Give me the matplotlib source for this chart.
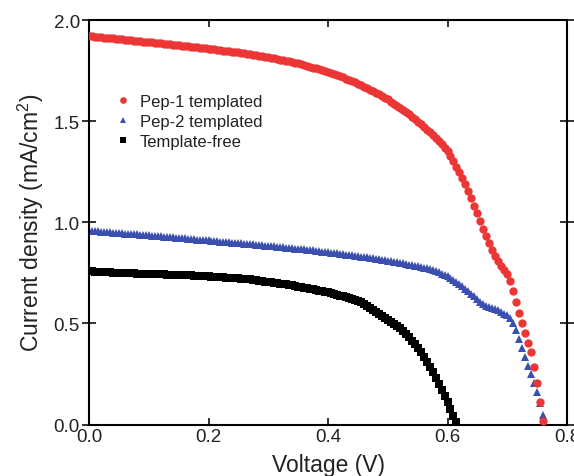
import numpy as np
import matplotlib
matplotlib.use("Agg")
import matplotlib.pyplot as plt

plt.rcParams['font.family'] = ['Liberation Sans', 'DejaVu Sans']
plt.rcParams['mathtext.fontset'] = 'custom'
plt.rcParams['mathtext.rm'] = 'Liberation Sans'
plt.rcParams['mathtext.it'] = 'Liberation Sans:italic'

# Voltage sweep step (V) -- all curves are sampled on the same grid
v_step = 0.005

# Current density (mA/cm^2), one value per voltage step starting at 0 V
pep1 = [
    1.920, 1.919, 1.918, 1.916, 1.915, 1.913, 1.912, 1.910, 1.909, 1.907,
    1.905, 1.904, 1.902, 1.901, 1.899, 1.898, 1.896, 1.895, 1.893, 1.892,
    1.890, 1.889, 1.887, 1.886, 1.884, 1.883, 1.881, 1.880, 1.878, 1.877,
    1.875, 1.873, 1.872, 1.870, 1.868, 1.867, 1.865, 1.863, 1.862, 1.860,
    1.858, 1.856, 1.855, 1.853, 1.851, 1.849, 1.848, 1.846, 1.844, 1.842,
    1.840, 1.838, 1.836, 1.833, 1.831, 1.829, 1.826, 1.824, 1.821, 1.819,
    1.816, 1.813, 1.810, 1.807, 1.804, 1.801, 1.798, 1.795, 1.792, 1.788,
    1.785, 1.781, 1.777, 1.773, 1.769, 1.765, 1.761, 1.757, 1.753, 1.749,
    1.745, 1.740, 1.734, 1.728, 1.722, 1.716, 1.710, 1.704, 1.698, 1.691,
    1.685, 1.678, 1.671, 1.664, 1.656, 1.649, 1.641, 1.633, 1.624, 1.616,
    1.607, 1.597, 1.587, 1.577, 1.566, 1.555, 1.544, 1.533, 1.521, 1.509,
    1.497, 1.484, 1.471, 1.458, 1.444, 1.430, 1.416, 1.401, 1.386, 1.368,
    1.350, 1.326, 1.301, 1.275, 1.248, 1.218, 1.187, 1.153, 1.118, 1.082,
    1.045, 1.005, 0.967, 0.930, 0.895, 0.862, 0.832, 0.806, 0.785, 0.766,
    0.745, 0.710, 0.660, 0.607, 0.553, 0.503, 0.454, 0.405, 0.360, 0.286,
    0.207, 0.109, 0.015,
]

pep2 = [
    0.958, 0.957, 0.956, 0.955, 0.954, 0.953, 0.951, 0.950, 0.949, 0.948,
    0.947, 0.946, 0.944, 0.943, 0.942, 0.941, 0.940, 0.938, 0.937, 0.936,
    0.935, 0.934, 0.932, 0.931, 0.930, 0.929, 0.927, 0.926, 0.925, 0.923,
    0.922, 0.921, 0.920, 0.918, 0.917, 0.916, 0.914, 0.913, 0.912, 0.911,
    0.910, 0.908, 0.907, 0.906, 0.904, 0.903, 0.902, 0.900, 0.899, 0.898,
    0.897, 0.895, 0.894, 0.893, 0.891, 0.890, 0.889, 0.887, 0.886, 0.885,
    0.884, 0.882, 0.881, 0.879, 0.878, 0.876, 0.875, 0.873, 0.872, 0.870,
    0.869, 0.867, 0.866, 0.864, 0.862, 0.861, 0.859, 0.857, 0.855, 0.853,
    0.851, 0.849, 0.848, 0.846, 0.844, 0.842, 0.840, 0.838, 0.836, 0.834,
    0.832, 0.830, 0.828, 0.826, 0.823, 0.821, 0.819, 0.817, 0.815, 0.812,
    0.810, 0.807, 0.805, 0.802, 0.799, 0.797, 0.794, 0.791, 0.788, 0.786,
    0.783, 0.780, 0.776, 0.772, 0.767, 0.763, 0.758, 0.752, 0.746, 0.740,
    0.733, 0.724, 0.715, 0.705, 0.694, 0.683, 0.671, 0.659, 0.647, 0.634,
    0.621, 0.608, 0.597, 0.588, 0.580, 0.574, 0.571, 0.566, 0.557, 0.548,
    0.540, 0.528, 0.500, 0.465, 0.425, 0.380, 0.333, 0.290, 0.250, 0.207,
    0.160, 0.105, 0.045,
]

template_free = [
    0.757, 0.757, 0.756, 0.755, 0.755, 0.754, 0.753, 0.752, 0.751, 0.750,
    0.749, 0.749, 0.748, 0.748, 0.747, 0.747, 0.746, 0.746, 0.745, 0.745,
    0.744, 0.744, 0.743, 0.743, 0.742, 0.742, 0.741, 0.741, 0.740, 0.740,
    0.739, 0.738, 0.738, 0.737, 0.737, 0.736, 0.735, 0.735, 0.734, 0.733,
    0.732, 0.731, 0.730, 0.729, 0.728, 0.727, 0.726, 0.725, 0.724, 0.723,
    0.722, 0.721, 0.719, 0.718, 0.717, 0.715, 0.713, 0.711, 0.709, 0.707,
    0.705, 0.703, 0.701, 0.699, 0.697, 0.695, 0.693, 0.690, 0.688, 0.685,
    0.682, 0.680, 0.677, 0.674, 0.671, 0.668, 0.665, 0.662, 0.659, 0.656,
    0.653, 0.649, 0.645, 0.641, 0.637, 0.633, 0.628, 0.624, 0.620, 0.616,
    0.612, 0.604, 0.596, 0.587, 0.578, 0.568, 0.558, 0.548, 0.537, 0.526,
    0.515, 0.506, 0.497, 0.488, 0.478, 0.464, 0.448, 0.431, 0.414, 0.397,
    0.380, 0.357, 0.334, 0.310, 0.285, 0.260, 0.231, 0.201, 0.171, 0.140,
    0.110, 0.077, 0.044, 0.010,
]

labels = ["Pep-1 templated", "Pep-2 templated", "Template-free"]
x_ticks = [0.0, 0.2, 0.4, 0.6, 0.8]
y_ticks = [0.0, 0.5, 1.0, 1.5, 2.0]

W, H = 574, 477
fig = plt.figure(figsize=(W / 100, H / 100), dpi=100)
ax = fig.add_axes([89 / W, 1 - 425.5 / H, (567 - 89) / W, (425.5 - 21) / H])


def volts(series):
    return v_step * np.arange(len(series))


ax.plot(volts(pep1), pep1, 'o', color='#ec3535', ms=6.0, mew=0, label=labels[0], zorder=3)
ax.plot(volts(pep2), pep2, '^', color='#3a4fae', ms=5.8, mew=0, label=labels[1], zorder=2)
ax.plot(volts(template_free), template_free, 's', color='#000000', ms=5.2, mew=0,
        label=labels[2], zorder=1)

ax.set_xlim(0, 0.8)
ax.set_ylim(0, 2.0)
ax.set_xticks(x_ticks)
ax.set_yticks(y_ticks)
ax.xaxis.set_major_formatter(matplotlib.ticker.FormatStrFormatter('%.1f'))
ax.yaxis.set_major_formatter(matplotlib.ticker.FormatStrFormatter('%.1f'))

for s in ax.spines.values():
    s.set_linewidth(1.5)
ax.tick_params(axis='x', which='major', direction='in', length=5, width=1.3,
               top=True, bottom=True, labelsize=13.5, pad=2.5, colors='#222222')
ax.tick_params(axis='y', which='major', direction='inout', length=10, width=1.3,
               left=True, right=True, labelsize=13.5, pad=1.5, colors='#222222')

ax.set_xlabel('Voltage (V)', fontsize=16.5, labelpad=6, color='#222222')
ax.set_ylabel(r'Current density (mA/cm$^2$)', fontsize=16.5, labelpad=5.5, color='#222222')

leg = ax.legend(loc='upper left', bbox_to_anchor=(0.022, 0.855), frameon=False,
                fontsize=12, handletextpad=0.5, labelspacing=0.3, handlelength=1.0,
                markerscale=0.8)
for t in leg.get_texts():
    t.set_color('#222222')

fig.savefig('out.png', dpi=100)
